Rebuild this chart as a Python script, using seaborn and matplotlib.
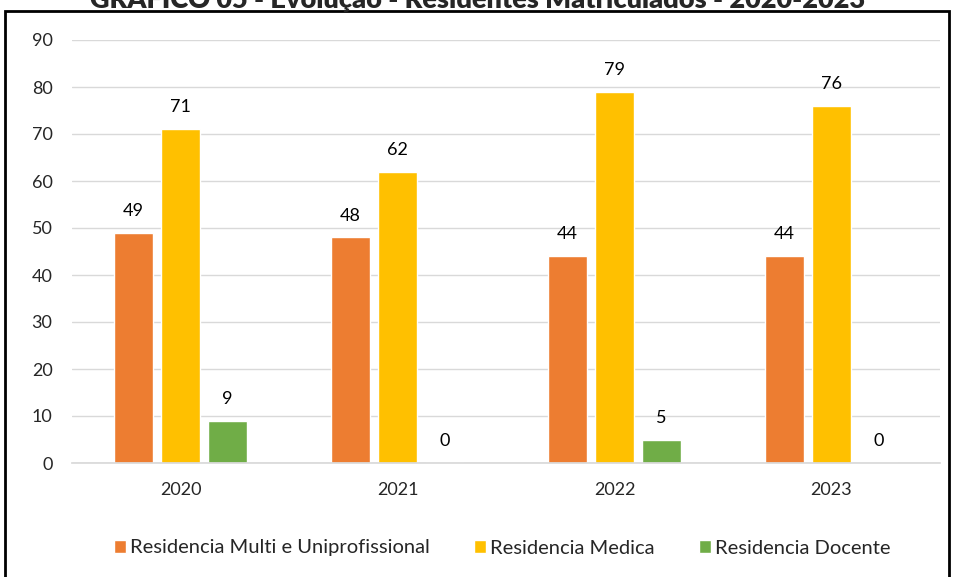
import pandas as pd
import numpy as np
import matplotlib.pyplot as plt
import seaborn as sns
from matplotlib.patches import Rectangle, Patch

# Chart data
anos = ['2020', '2021', '2022', '2023']
multi = [49, 48, 44, 44]
medica = [71, 62, 79, 76]
docente = [9, 0, 5, 0]
series = ['Residencia Multi e Uniprofissional', 'Residencia Medica', 'Residencia Docente']
cores = ['#ED7D31', '#FFC000', '#70AD47']

df = pd.DataFrame({
    'ano': anos * 3,
    'valor': multi + medica + docente,
    'tipo': [series[0]] * 4 + [series[1]] * 4 + [series[2]] * 4,
})

sns.set_theme(style='white')
plt.rcParams['font.family'] = ['Lato', 'DejaVu Sans']

fig = plt.figure(figsize=(9.55, 5.77), dpi=100)
ax = fig.add_axes([72 / 955, 1 - 463 / 577, 868 / 955, 423 / 577])

sns.barplot(data=df, x='ano', y='valor', hue='tipo', palette=cores,
            width=0.65, gap=0.19, ax=ax, legend=False, saturation=1)

for cont in ax.containers:
    ax.bar_label(cont, padding=10, fontsize=13, color='#000000')

ax.set_ylim(0, 90)
ax.set_yticks(range(0, 91, 10))
ax.yaxis.grid(True, color='#D9D9D9', linewidth=1)
ax.set_axisbelow(True)
for s in ax.spines.values():
    s.set_visible(False)
ax.spines['bottom'].set_visible(True)
ax.spines['bottom'].set_color('#D9D9D9')
ax.set_xlabel('')
ax.set_ylabel('')
ax.tick_params(axis='y', labelsize=13, pad=14, length=0)
ax.tick_params(axis='x', labelsize=13, pad=14, length=0)

# Black border around the chart area (bottom edge out of view)
fig.patches.append(Rectangle((5 / 955, -0.05), 944 / 955, 1.05 - 11 / 577,
                             transform=fig.transFigure, fill=False,
                             edgecolor='black', linewidth=2))

fig.text(0.5, 1 + 2 / 577, 'GRÁFICO 05 - Evolução - Residentes Matriculados - 2020-2023',
         ha='center', va='center', fontsize=19.5, fontweight='heavy')

handles = [Patch(facecolor=c, label=l) for c, l in zip(cores, series)]
fig.legend(handles=handles, loc='center', bbox_to_anchor=(502 / 955, 1 - 548 / 577),
           ncol=3, frameon=False, fontsize=14.5, handlelength=0.6, handleheight=0.6,
           handletextpad=0.2, columnspacing=2.2)

fig.savefig('out.png', dpi=100)
